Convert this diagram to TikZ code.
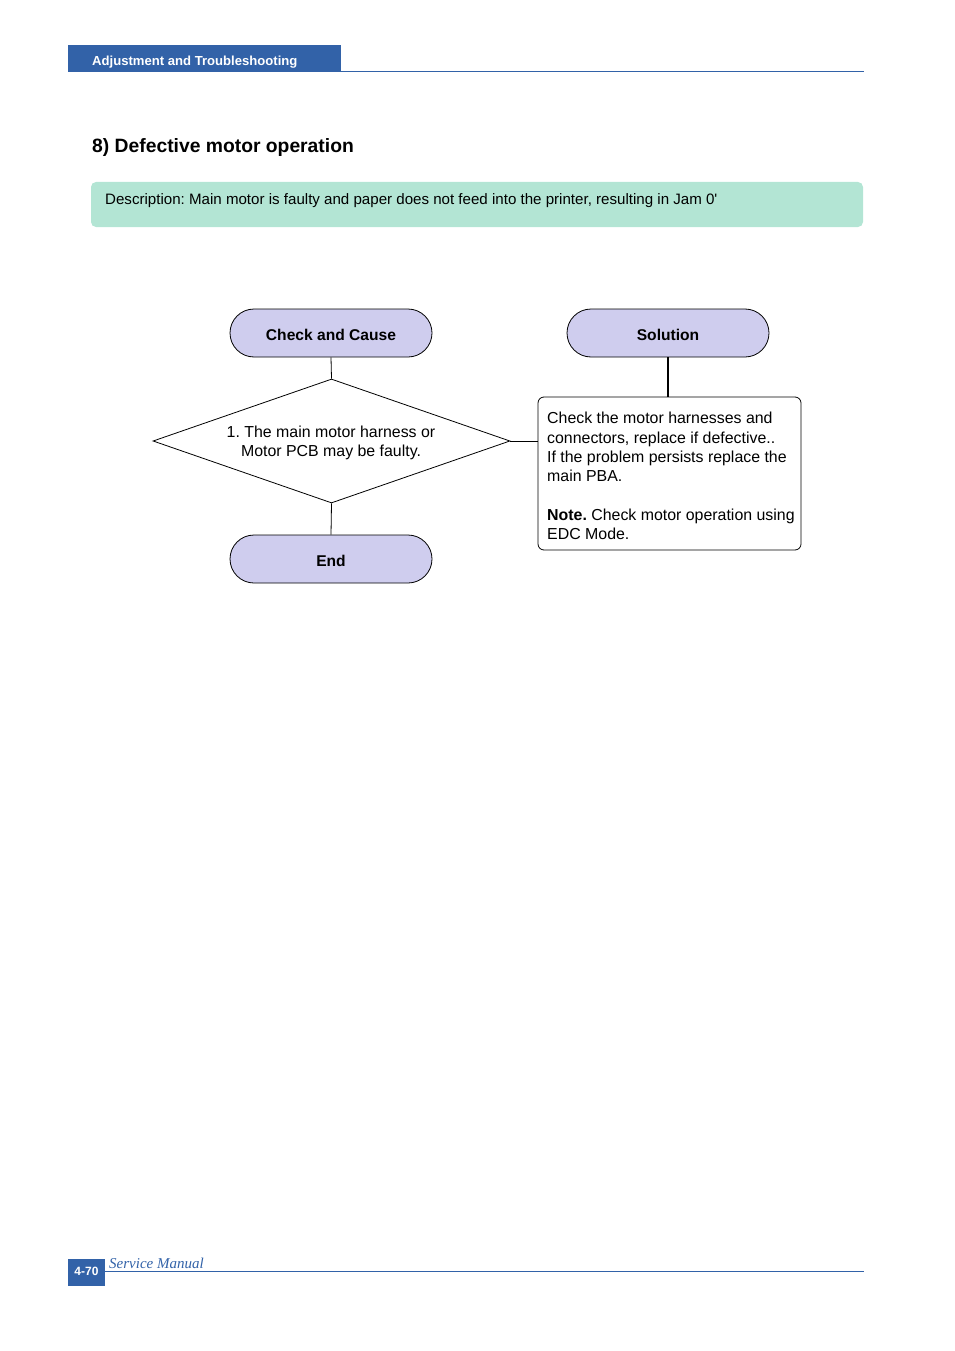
\documentclass[tikz,border=0pt]{standalone}
\usepackage{fontspec}
\setmainfont{Liberation Sans}
\newfontfamily\serifit{Liberation Serif}
\usetikzlibrary{shapes.geometric}
\definecolor{hdrblue}{HTML}{3262A8}
\definecolor{descgreen}{HTML}{B3E5D4}
\definecolor{pill}{HTML}{CFCDEE}
\frenchspacing
\begin{document}
\begin{tikzpicture}[x=1pt,y=-1pt,
  pillbox/.style={draw=black, fill=pill, line width=0.8pt, rounded corners=24pt,
    minimum width=202pt, minimum height=48pt, inner sep=0pt, text height=14pt, text depth=0pt,
    font=\fontsize{15.6}{18}\selectfont\bfseries},
  conn/.style={draw=black, line width=0.8pt},
  txt/.style={font=\fontsize{15.9}{19.3}\selectfont, inner sep=0pt}]
\useasboundingbox (0,0) rectangle (954,1351);
% header
\fill[hdrblue] (68,45) rectangle (341,72);
\draw[hdrblue, line width=1pt] (341,72) -- (864,72);
\node[anchor=west, text=white, font=\fontsize{13.1}{15}\selectfont\bfseries, inner sep=0pt] (hdr) at (92,62.5) {Adjustment and Troubleshooting};
% title
\node[anchor=base west, font=\fontsize{19.3}{22}\selectfont\bfseries, inner sep=0pt] (title) at (92,152.5) {8) Defective motor operation};
% description
\fill[descgreen, rounded corners=5pt] (91,182) rectangle (863,227);
\node[anchor=west, font=\fontsize{15.1}{17}\selectfont, inner sep=0pt] (desc) at (105,201) {Description: Main motor is faulty and paper does not feed into the printer, resulting in Jam 0\textquotesingle};
% flowchart
\node[pillbox] (cc) at (331,333) {Check and Cause};
\node[pillbox] (sol) at (668,333) {Solution};
\node[draw=black, line width=0.8pt, diamond, minimum width=357pt, minimum height=124pt, inner sep=0pt, aspect=2.88] (dia) at (331.5,441) {};
\node[txt, align=center] (diatext) at (331,443) {1. The main motor harness or\\Motor PCB may be faulty.};
\node[pillbox] (end) at (331,559) {End};
\node[draw=black, line width=0.8pt, rounded corners=6pt, minimum width=263pt, minimum height=153pt, inner sep=0pt] (box) at (669.5,473.5) {};
\node[txt, anchor=north west, align=left] (boxtext) at (547,412) {Check the motor harnesses and\\connectors, replace if defective..\\If the problem persists replace the\\main PBA.\\[19.3pt]\textbf{Note.} Check motor operation using\\EDC Mode.};
\draw[conn] (cc.south) -- (dia.north);
\draw[conn] (dia.south) -- (end.north);
\draw[conn] (dia.east) -- (box.west |- dia.east);
\draw[draw=black, line width=1.5pt] (sol.south) -- (box.north -| sol.south);
% footer
\fill[hdrblue] (68,1259) rectangle (105,1286);
\node[text=white, font=\fontsize{12}{14}\selectfont\bfseries, inner sep=0pt] (pg) at (86.5,1271) {4-70};
\draw[hdrblue, line width=1pt] (105,1271.5) -- (864,1271.5);
\node[anchor=base west, text=hdrblue, font=\serifit\fontsize{15}{17}\selectfont\itshape, inner sep=0pt] (sm) at (109,1268.5) {Service Manual};
\end{tikzpicture}
\end{document}
